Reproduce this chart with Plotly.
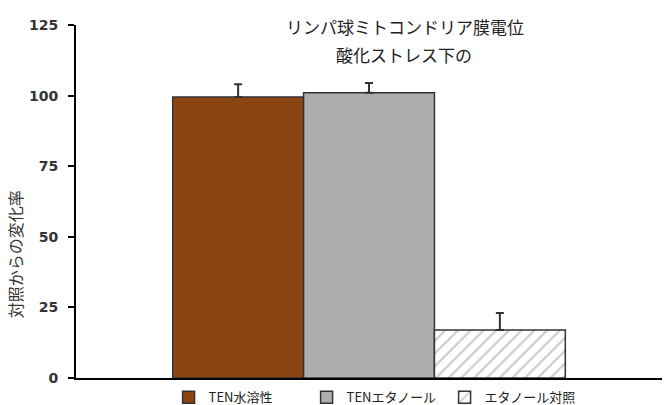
import plotly.graph_objects as go

# data
group = ["酸化ストレス"]
series = ["TEN水溶性", "TENエタノール", "エタノール対照"]
values = [99.5, 101, 17]
errors = [4.5, 3.5, 6]
colors = ["#8B4513", "#AEAEAE", "#FFFFFF"]
yticks = [0, 25, 50, 75, 100, 125]
title_lines = ["リンパ球ミトコンドリア膜電位", "酸化ストレス下の"]

fig = go.Figure()
for name, val, err, col in zip(series, values, errors, colors):
    pattern = dict(shape="")
    if name == "エタノール対照":
        pattern = dict(shape="/", fgcolor="#9a9a9a", bgcolor="white", size=9, solidity=0.25)
    fig.add_trace(go.Bar(
        x=group, y=[val], name=name,
        marker=dict(color=col, line=dict(color="#333333", width=1.5), pattern=pattern),
        error_y=dict(type="data", array=[err], arrayminus=[0], symmetric=False,
                     color="#333333", thickness=2, width=4),
    ))

# second title line as its own text so the two lines don't collide
fig.add_annotation(text=title_lines[1], showarrow=False,
                   xref="paper", yref="paper", x=0.56, y=0.917,
                   xanchor="center", yanchor="middle",
                   font=dict(size=17, color="#222222"))

# y axis title sits lower than the axis middle in the original
fig.add_annotation(text="対照からの変化率", textangle=-90, showarrow=False,
                   xref="paper", yref="paper", x=-0.104, y=0.351,
                   xanchor="center", yanchor="middle",
                   font=dict(size=16, color="#333333"))

fig.update_layout(
    width=666, height=405,
    margin=dict(l=76, r=4, t=25, b=27, autoexpand=False),
    paper_bgcolor="white", plot_bgcolor="white",
    font=dict(family="Noto Sans CJK JP", color="#333333"),
    barmode="group", bargap=0.33, bargroupgap=0,
    title=dict(text=title_lines[0],
               x=0.608, xanchor="center", y=0.93, yanchor="middle",
               font=dict(size=17, color="#222222")),
    showlegend=True,
    legend=dict(orientation="h", x=0.158, xanchor="left", y=-0.012, yanchor="top",
                font=dict(size=13, color="#222222"), itemwidth=30,
                entrywidth=93, entrywidthmode="pixels", tracegroupgap=0),
    xaxis=dict(showticklabels=False, showline=True, linecolor="black", linewidth=2,
               ticks="", showgrid=False),
    yaxis=dict(range=[0, 125], tickvals=yticks, showline=True, linecolor="black",
               linewidth=2, ticks="outside", ticklen=6, tickwidth=2, tickcolor="black",
               ticklabelstandoff=7, showgrid=False, zeroline=False,
               tickfont=dict(size=14, color="#333333", family="DejaVu Sans, sans-serif", weight="bold")),
)

fig.write_html("out.html", config={"displayModeBar": False},
               post_script="document.body.style.margin='0';document.body.style.overflow='hidden';")
